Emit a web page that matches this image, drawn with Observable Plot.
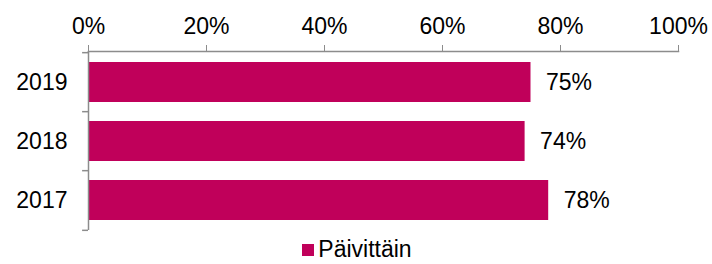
<!DOCTYPE html>
<html>
<head>
<meta charset="utf-8">
<script src="https://cdn.jsdelivr.net/npm/d3@7"></script>
<script src="https://cdn.jsdelivr.net/npm/@observablehq/plot@0.6"></script>
<style>
  html, body { margin: 0; padding: 0; background: #fff; }
  #chart { width: 712px; font-family: "Liberation Sans", Arial, sans-serif; }
  .legend { height: 29px; display: flex; justify-content: center; align-items: center; font-size: 23px; color: #000; }
  .legend .sw { width: 12px; height: 12px; background: #C0005A; margin-right: 4px; margin-left: 2px; }
</style>
</head>
<body>
<div id="chart"></div>
<script>
const years = ["2019", "2018", "2017"];
const values = [75, 74, 78];
const xTicks = [0, 20, 40, 60, 80, 100];
const seriesName = "Päivittäin";
const barColor = "#C0005A";
const axisColor = "#8c8c8c";

const data = years.map((y, i) => ({year: y, value: values[i]}));

const height = 235, marginTop = 51, marginBottom = 5;
const step = (height - marginTop - marginBottom) / years.length;

const plot = Plot.plot({
  width: 712,
  height,
  marginTop,
  marginBottom,
  marginLeft: 88,
  marginRight: 34,
  style: {fontFamily: '"Liberation Sans", Arial, sans-serif', fontSize: "23px", color: "#000", background: "#fff"},
  x: {domain: [0, 100], axis: null},
  y: {domain: years, paddingInner: 0.33, paddingOuter: 0.165, axis: null},
  marks: [
    Plot.axisX(xTicks, {anchor: "top", tickSize: 7, tickPadding: 11, tickFormat: d => d + "%", stroke: axisColor, fill: "#000", label: null, fontSize: 23}),
    Plot.axisY({tickSize: 0, tickPadding: 21, label: null, fontSize: 23, fill: "#000"}),
    Plot.barX(data, {x: "value", y: "year", fill: barColor}),
    Plot.text(data, {x: "value", y: "year", text: d => d.value + "%", textAnchor: "start", dx: 15, fontSize: 23, fill: "#000"}),
    Plot.ruleX([0], {stroke: axisColor, strokeWidth: 1.5}),
    Plot.frame({anchor: "top", stroke: axisColor, strokeWidth: 1.5}),
    Plot.ruleY(years, {y: d => d, x1: -1, x2: 0, dy: -step / 2, stroke: axisColor, strokeWidth: 1.5}),
    Plot.ruleY([years[years.length - 1]], {y: d => d, x1: -1, x2: 0, dy: step / 2, stroke: axisColor, strokeWidth: 1.5})
  ]
});

const chart = document.getElementById("chart");
chart.appendChild(plot);
const legend = document.createElement("div");
legend.className = "legend";
legend.innerHTML = `<span class="sw"></span><span>${seriesName}</span>`;
chart.appendChild(legend);
</script>
</body>
</html>
